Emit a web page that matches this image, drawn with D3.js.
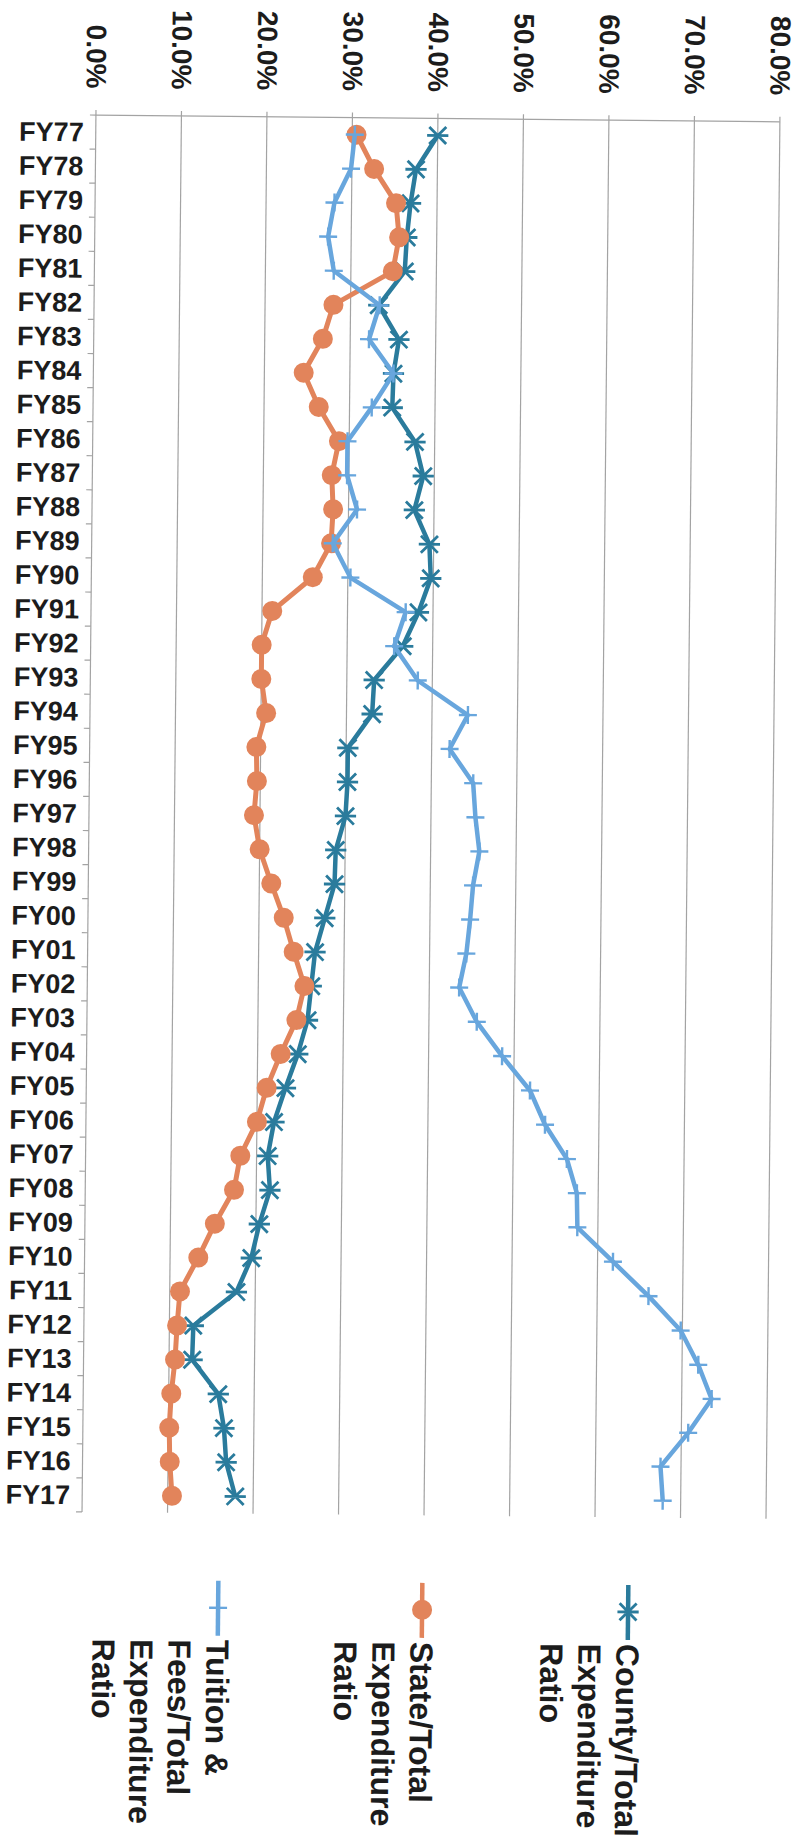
<!DOCTYPE html>
<html><head><meta charset="utf-8">
<script src="https://cdn.jsdelivr.net/npm/d3@7"></script>
<style>
body{margin:0;background:#fff}
text{font-family:"Liberation Sans",Arial,sans-serif;font-weight:bold;fill:#1c1c1c}
</style>
</head><body>
<svg id="chart" width="799" height="1844"></svg>
<script>
const years = ["FY77","FY78","FY79","FY80","FY81","FY82","FY83","FY84","FY85","FY86","FY87","FY88","FY89","FY90","FY91","FY92","FY93","FY94","FY95","FY96","FY97","FY98","FY99","FY00","FY01","FY02","FY03","FY04","FY05","FY06","FY07","FY08","FY09","FY10","FY11","FY12","FY13","FY14","FY15","FY16","FY17"];
const countyRatio = [40.0,37.5,36.9,36.5,36.3,33.3,35.7,35.1,35.0, 37.7,38.7,37.7,39.5,39.7,38.3,36.5,33.2,33.0, 30.2,30.2,30.0,28.9,28.8,27.7,26.6,26.2,25.8,24.7, 23.3,22.0,21.3,21.6,20.4,19.5,17.8, 12.8,12.7,15.8,16.5,16.8,17.9];
const stateRatio = [30.5,32.6,35.2,35.6,34.9,28.0,26.8,24.6,26.4, 28.8,28.0,28.2,28.0,25.9,21.2,20.0,20.0,20.6, 19.5,19.6,19.3,20.0,21.4,22.9,24.1,25.4,24.5,22.7, 21.1,20.0,18.1,17.4,15.2,13.3,11.2, 10.9,10.7,10.3,10.1,10.2,10.5];
const tuitionRatio = [30.3,29.9,28.0,27.3,28.0,33.4,32.2,35.1,32.6, 29.8,29.8,31.0,28.2,30.3,36.8,35.5,38.3,44.2, 42.1,44.9,45.2,45.7,45.0,44.7,44.3,43.5,45.6,48.6, 51.9,53.7,56.3,57.5,57.6,61.8,66.0, 69.8,71.9,73.5,70.8,67.6,67.9];
const valueTicks = [0,10,20,30,40,50,60,70,80];
const countyLabel = ["County/Total","Expenditure","Ratio"];
const stateLabel = ["State/Total","Expenditure","Ratio"];
const tuitionLabel = ["Tuition &","Fees/Total","Expenditure","Ratio"];

const colors = {county:"#2a7b9c", state:"#e2845b", tuition:"#68a6dd"};

const svg = d3.select("#chart");
const g = svg.append("g").attr("transform","rotate(0.57,440,813)");

const x = d3.scaleLinear().domain([0,80]).range([89,773]);
const y = d3.scaleBand().domain(years).range([118.5,1515.5]);
const yc = d => y(d) + y.bandwidth()/2;

// gridlines
g.append("g").selectAll("line").data(valueTicks).join("line")
  .attr("x1",d=>x(d)).attr("x2",d=>x(d))
  .attr("y1",y.range()[0]-5).attr("y2",y.range()[1])
  .attr("stroke","#a3a3a3").attr("stroke-width",1.2);

// top axis line
g.append("line").attr("x1",x(0)).attr("x2",x(80)).attr("y1",y.range()[0]).attr("y2",y.range()[0])
  .attr("stroke","#a3a3a3").attr("stroke-width",1.2);

// left category axis ticks
const bounds = years.map(d=>y(d)).concat([y.range()[1]]);
g.append("g").selectAll("line").data(bounds).join("line")
  .attr("x1",x(0)-6).attr("x2",x(0)).attr("y1",d=>d).attr("y2",d=>d)
  .attr("stroke","#a3a3a3").attr("stroke-width",1.2);

// value tick labels (rotated)
g.append("g").selectAll("text").data(valueTicks).join("text")
  .attr("transform",d=>`translate(${x(d)},92) rotate(90)`)
  .attr("text-anchor","end").attr("dy","0.35em")
  .style("font-size","28px")
  .text(d=>d3.format(".1f")(d)+"%");

// category labels
g.append("g").selectAll("text").data(years).join("text")
  .attr("x",77).attr("y",d=>yc(d)).attr("dy","0.35em")
  .attr("text-anchor","end").style("font-size","27px")
  .text(d=>d);

const line = d3.line().x(d=>x(d.v)).y(d=>yc(d.k));
function series(vals){ return years.map((k,i)=>({k, v:vals[i]})); }

function starPath(s){ return `M${-s},${-s}L${s},${s}M${-s},${s}L${s},${-s}M${-s*1.25},0L${s*1.25},0`; }
function plusPath(s){ return `M${-s},0L${s},0M0,${-s}L0,${s}`; }

// County
const cData = series(countyRatio);
g.append("path").datum(cData).attr("d",line).attr("fill","none")
  .attr("stroke",colors.county).attr("stroke-width",4.5).attr("stroke-linejoin","round");
g.append("g").selectAll("path").data(cData).join("path")
  .attr("transform",d=>`translate(${x(d.v)},${yc(d.k)})`)
  .attr("d",starPath(8.5)).attr("stroke",colors.county).attr("stroke-width",2.8).attr("fill","none");

// State
const sData = series(stateRatio);
g.append("path").datum(sData).attr("d",line).attr("fill","none")
  .attr("stroke",colors.state).attr("stroke-width",5).attr("stroke-linejoin","round");
g.append("g").selectAll("circle").data(sData).join("circle")
  .attr("cx",d=>x(d.v)).attr("cy",d=>yc(d.k)).attr("r",10).attr("fill",colors.state);

// Tuition
const tData = series(tuitionRatio);
g.append("path").datum(tData).attr("d",line).attr("fill","none")
  .attr("stroke",colors.tuition).attr("stroke-width",4.5).attr("stroke-linejoin","round");
g.append("g").selectAll("path").data(tData).join("path")
  .attr("transform",d=>`translate(${x(d.v)},${yc(d.k)})`)
  .attr("d",plusPath(9)).attr("stroke",colors.tuition).attr("stroke-width",2.4).attr("fill","none");

// Legend
const legend = [
  {cx:636, lines:countyLabel, color:colors.county, kind:"star"},
  {cx:430, lines:stateLabel, color:colors.state, kind:"circle"},
  {cx:226, lines:tuitionLabel, color:colors.tuition, kind:"plus"}
];
const lg = g.append("g");
legend.forEach(e=>{
  const my = 1610;
  lg.append("line").attr("x1",e.cx).attr("x2",e.cx).attr("y1",my-27).attr("y2",my+28)
    .attr("stroke",e.color).attr("stroke-width",4.5);
  if(e.kind==="star") lg.append("path").attr("transform",`translate(${e.cx},${my})`).attr("d",starPath(8.5)).attr("stroke",e.color).attr("stroke-width",2.8).attr("fill","none");
  if(e.kind==="circle") lg.append("circle").attr("cx",e.cx).attr("cy",my).attr("r",10).attr("fill",e.color);
  if(e.kind==="plus") lg.append("path").attr("transform",`translate(${e.cx},${my})`).attr("d",plusPath(9)).attr("stroke",e.color).attr("stroke-width",2.4).attr("fill","none");
  e.lines.forEach((t,i)=>{
    lg.append("text").attr("transform",`translate(${e.cx - i*38},1642) rotate(90)`)
      .attr("dy","0.35em").style("font-size","32px").text(t);
  });
});
</script>
</body></html>
